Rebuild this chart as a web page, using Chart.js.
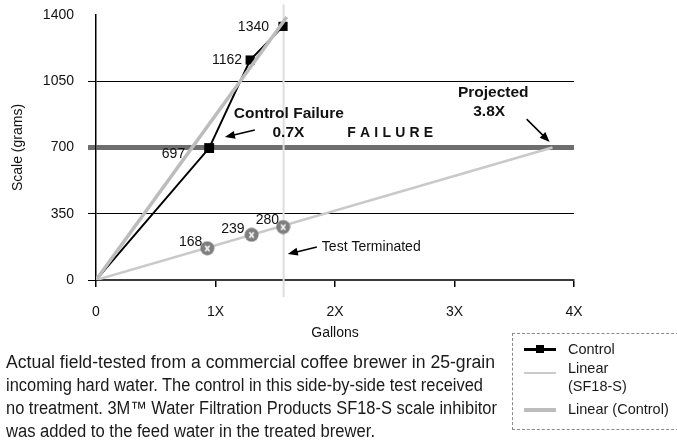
<!DOCTYPE html>
<html lang="en">
<head>
    <meta charset="UTF-8">
    <title>Scale build-up: Control vs SF18-S</title>
    <script src="https://cdn.jsdelivr.net/npm/chart.js"></script>
    <style>
        body {
            margin: 0;
            background-color: #ffffff;
            color: #1a1a1a;
            font-family: "Liberation Sans", Arial, sans-serif;
        }
        .wrap {
            position: relative;
            width: 677px;
            height: 441px;
            overflow: hidden;
        }
        #scaleChart {
            position: absolute;
            left: 0;
            top: 0;
        }
        .note {
            position: absolute;
            left: 6px;
            top: 351px;
            font-size: 18px;
            line-height: 23px;
            white-space: nowrap;
            color: #1a1a1a;
        }
        .note span { display: block; width: max-content; transform-origin: 0 0; }
        .legend {
            position: absolute;
            left: 512px;
            top: 333px;
            width: 180px;
            height: 95px;
            border: 1px dashed #8a8a8a;
            font-size: 14.5px;
        }
        .legend .key { position: absolute; left: 11px; width: 32px; }
        .legend .lbl { position: absolute; left: 55px; line-height: 18px; }
        .legend .sq { position: absolute; width: 8px; height: 8px; background: #000; }
    </style>
</head>
<body>
    <div class="wrap">
        <canvas id="scaleChart" width="677" height="441"></canvas>

        <div class="note" id="note">
            <span>Actual field-tested from a commercial coffee brewer in 25-grain</span>
            <span>incoming hard water. The control in this side-by-side test received</span>
            <span>no treatment. 3M&trade; Water Filtration Products SF18-S scale inhibitor</span>
            <span>was added to the feed water in the treated brewer.</span>
        </div>

        <div class="legend">
            <div class="key" style="top:14px;height:3px;background:#000"></div>
            <div class="sq" style="left:23px;top:11px"></div>
            <div class="lbl" style="top:6px">Control</div>

            <div class="key" style="top:38px;height:2px;background:#cacaca"></div>
            <div class="lbl" style="top:25px">Linear<br>(SF18-S)</div>

            <div class="key" style="top:74px;height:4px;background:#bdbdbd"></div>
            <div class="lbl" style="top:66px">Linear (Control)</div>
        </div>
    </div>

    <script>
        // measured values
        const controlGallons = [0, 0.947, 1.29, 1.565];
        const controlScale = [0, 697, 1162, 1340];

        const sf18Gallons = [0.931, 1.302, 1.566];
        const sf18Scale = [168, 239, 280];

        // trend lines
        const sf18TrendGallons = [0, 3.82];
        const sf18TrendScale = [0, 700];
        const controlTrendGallons = [0, 1.597];
        const controlTrendScale = [0, 1389];

        // end of test marker
        const testStopGallons = [1.57, 1.57];
        const testStopScale = [-90, 1455];

        const xTicks = [0, 1, 2, 3, 4];
        const yTicks = [0, 350, 700, 1050, 1400];
        const failureLevel = 700;

        const FONT = '"Liberation Sans", Arial, sans-serif';
        Chart.defaults.font.family = FONT;
        Chart.defaults.color = '#111';

        // the caption is set in a condensed face; squeeze each line to its width
        const noteWidths = [489, 477, 491, 369];
        document.querySelectorAll('#note span').forEach((el, i) => {
            const w = el.getBoundingClientRect().width;
            el.style.transform = 'scaleX(' + (noteWidths[i] / w) + ')';
        });

        function pts(xs, ys) {
            return xs.map((x, i) => ({ x: x, y: ys[i] }));
        }

        // grey disc with a white x for the SF18-S readings
        function makeXMarker() {
            const c = document.createElement('canvas');
            c.width = 15;
            c.height = 15;
            const g = c.getContext('2d');
            g.fillStyle = '#7e7e7e';
            g.beginPath();
            g.arc(7.5, 7.5, 7, 0, Math.PI * 2);
            g.fill();
            g.strokeStyle = '#f4f4f4';
            g.lineWidth = 1.8;
            g.beginPath();
            g.moveTo(5.3, 5.0); g.lineTo(9.7, 10.5);
            g.moveTo(9.7, 5.0); g.lineTo(5.3, 10.5);
            g.stroke();
            return c;
        }

        function arrow(ctx, x1, y1, x2, y2) {
            const a = Math.atan2(y2 - y1, x2 - x1);
            const len = 10, half = 4;
            ctx.save();
            ctx.strokeStyle = '#000';
            ctx.fillStyle = '#000';
            ctx.lineWidth = 1.5;
            ctx.beginPath();
            ctx.moveTo(x1, y1);
            ctx.lineTo(x2 - Math.cos(a) * len * 0.8, y2 - Math.sin(a) * len * 0.8);
            ctx.stroke();
            ctx.beginPath();
            ctx.moveTo(x2, y2);
            ctx.lineTo(x2 - Math.cos(a) * len - Math.sin(a) * half, y2 - Math.sin(a) * len + Math.cos(a) * half);
            ctx.lineTo(x2 - Math.cos(a) * len + Math.sin(a) * half, y2 - Math.sin(a) * len - Math.cos(a) * half);
            ctx.closePath();
            ctx.fill();
            ctx.restore();
        }

        // value labels beside the markers
        const valueLabels = {
            id: 'valueLabels',
            afterDatasetsDraw(chart) {
                const ctx = chart.ctx;
                ctx.save();
                ctx.font = '14px ' + FONT;
                ctx.fillStyle = '#111';
                ctx.textAlign = 'right';
                ctx.textBaseline = 'middle';
                const ctrl = chart.getDatasetMeta(1).data;
                const ctrlShift = [null, [-24, 6], [-8, 0], [-14, 1]];
                controlScale.forEach((v, i) => {
                    if (!ctrlShift[i]) return;
                    ctx.fillText(v, ctrl[i].x + ctrlShift[i][0], ctrl[i].y + ctrlShift[i][1]);
                });
                const sf = chart.getDatasetMeta(3).data;
                const sfShift = [[-5, -6], [-7, -6], [-4, -7]];
                sf18Scale.forEach((v, i) => {
                    ctx.fillText(v, sf[i].x + sfShift[i][0], sf[i].y + sfShift[i][1]);
                });
                ctx.restore();
            }
        };

        // callouts placed in data units
        const callouts = {
            id: 'callouts',
            afterDatasetsDraw(chart) {
                const ctx = chart.ctx;
                const xs = chart.scales.x, ys = chart.scales.y;
                const px = v => xs.getPixelForValue(v);
                const py = v => ys.getPixelForValue(v);
                ctx.save();
                ctx.fillStyle = '#111';
                ctx.textBaseline = 'middle';
                ctx.textAlign = 'center';
                ctx.font = 'bold 15.5px ' + FONT;
                ctx.fillText('Control Failure', px(1.614), py(877));
                ctx.fillText('0.7X', px(1.61), py(777));
                ctx.fillText('Projected', px(3.324), py(988));
                ctx.fillText('3.8X', px(3.29), py(887));

                // spaced-out FAILURE
                ctx.font = 'bold 14px ' + FONT;
                ctx.textAlign = 'left';
                const word = 'FAILURE', gap = 4.2;
                let w = 0;
                for (const ch of word) w += ctx.measureText(ch).width;
                w += gap * (word.length - 1);
                let cx = px(2.462) - w / 2;
                for (const ch of word) {
                    ctx.fillText(ch, cx, py(777));
                    cx += ctx.measureText(ch).width + gap;
                }

                ctx.font = '14px ' + FONT;
                ctx.fillText('Test Terminated', px(1.89), py(174));
                ctx.restore();

                arrow(ctx, px(1.329), py(792), px(1.079), py(755));
                arrow(ctx, px(3.604), py(850), px(3.796), py(729));
                arrow(ctx, px(1.848), py(174), px(1.605), py(137));
            }
        };

        const chart = new Chart(document.getElementById('scaleChart'), {
            type: 'scatter',
            data: {
                datasets: [
                    {
                        label: 'Test Terminated',
                        data: pts(testStopGallons, testStopScale),
                        showLine: true,
                        borderColor: '#dddddd',
                        borderWidth: 2,
                        pointRadius: 0,
                        clip: false,
                        order: 6
                    },
                    {
                        label: 'Control',
                        data: pts(controlGallons, controlScale),
                        showLine: true,
                        borderColor: '#000',
                        backgroundColor: '#000',
                        borderWidth: 2,
                        pointStyle: 'rect',
                        pointRadius: [0, 7, 6.5, 6.5],
                        pointBorderWidth: 0,
                        order: 3
                    },
                    {
                        label: 'Linear (SF18-S)',
                        data: pts(sf18TrendGallons, sf18TrendScale),
                        showLine: true,
                        borderColor: '#c9c9c9',
                        borderWidth: 2.5,
                        pointRadius: 0,
                        order: 5
                    },
                    {
                        label: 'SF18-S',
                        data: pts(sf18Gallons, sf18Scale),
                        showLine: false,
                        pointStyle: makeXMarker(),
                        pointRadius: 7,
                        order: 4
                    },
                    {
                        label: 'Linear (Control)',
                        data: pts(controlTrendGallons, controlTrendScale),
                        showLine: true,
                        borderColor: '#bcbcbc',
                        borderWidth: 3.5,
                        pointRadius: 0,
                        order: 1
                    }
                ]
            },
            options: {
                responsive: false,
                animation: false,
                events: [],
                layout: {
                    padding: { left: 0, top: 15, right: 103, bottom: 99 }
                },
                scales: {
                    x: {
                        type: 'linear',
                        min: 0,
                        max: 4,
                        afterBuildTicks: s => { s.ticks = xTicks.map(v => ({ value: v })); },
                        afterFit: s => { s.height = 62; },
                        ticks: {
                            padding: 17,
                            font: { size: 14 },
                            color: '#111',
                            callback: v => (v === 0 ? '0' : v + 'X')
                        },
                        grid: {
                            drawOnChartArea: false,
                            drawTicks: true,
                            tickLength: 7,
                            color: '#000',
                            lineWidth: 1.5
                        },
                        border: { color: '#3a3a3a', width: 2 },
                        title: {
                            display: true,
                            text: 'Gallons',
                            font: { size: 14 },
                            color: '#111',
                            padding: { top: 0, bottom: 0 }
                        }
                    },
                    y: {
                        min: 0,
                        max: 1400,
                        afterBuildTicks: s => { s.ticks = yTicks.map(v => ({ value: v })); },
                        afterFit: s => {
                            s.width = 96;
                            s.paddingTop = 0;
                            s.paddingBottom = 0;
                        },
                        ticks: {
                            padding: 14,
                            font: { size: 14 },
                            color: '#111',
                            callback: v => String(v)
                        },
                        grid: {
                            drawTicks: true,
                            tickLength: 8,
                            color: c => {
                                const v = c.tick ? c.tick.value : null;
                                if (v === failureLevel) return '#6e6e6e';
                                if (v === 1400) return 'rgba(0,0,0,0)';
                                return '#000';
                            },
                            lineWidth: c => (c.tick && c.tick.value === failureLevel ? 5 : 1)
                        },
                        border: { color: '#000', width: 1.5 },
                        title: {
                            display: true,
                            text: 'Scale (grams)',
                            font: { size: 14 },
                            color: '#111',
                            padding: { top: 10, bottom: 0 }
                        }
                    }
                },
                plugins: {
                    legend: { display: false },
                    tooltip: { enabled: false }
                }
            },
            plugins: [valueLabels, callouts]
        });
    </script>
</body>
</html>
